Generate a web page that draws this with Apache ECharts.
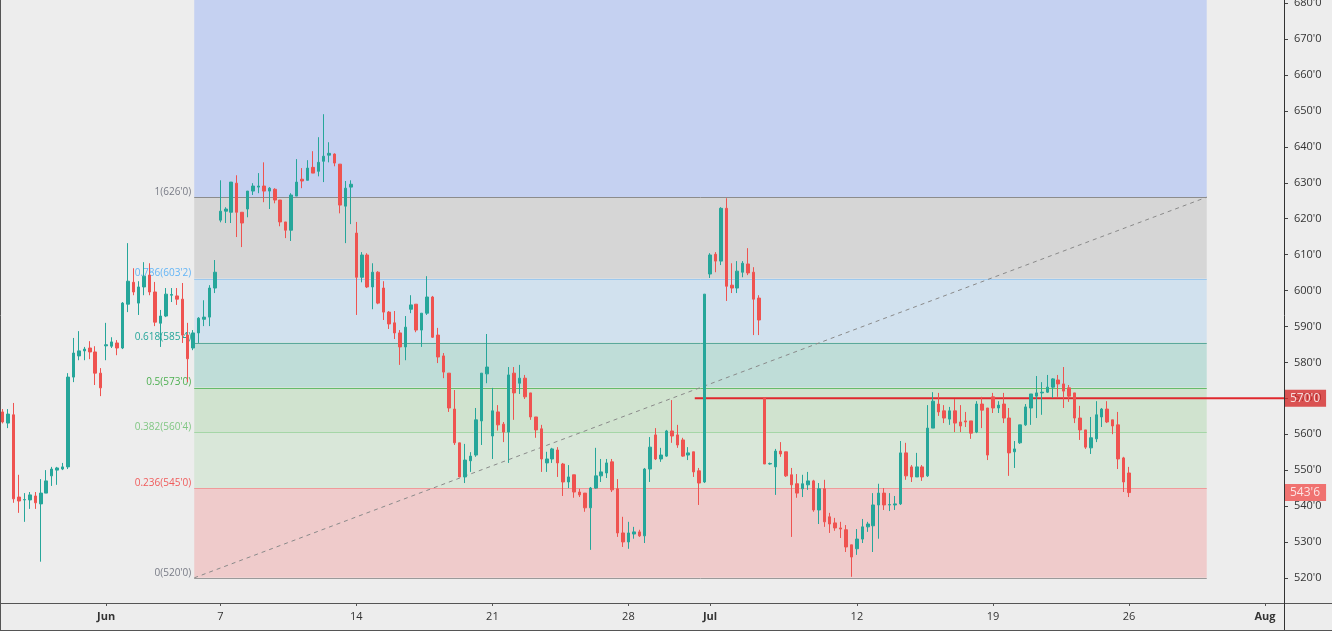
<!DOCTYPE html>
<html>
<head>
<meta charset="utf-8">
<script src="https://cdn.jsdelivr.net/npm/echarts@6/dist/echarts.min.js"></script>
<style>
html,body{margin:0;padding:0;background:#ededed;}
#chart{width:1332px;height:631px;}
</style>
</head>
<body>
<div id="chart"></div>
<script>
// ---------- DATA ----------
const open = [566.2,563.1,565.4,542.5,541.7,541.7,542.8,540.6,543.6,548.4,550.0,550.3,550.9,575.9,581.8,583.2,584.0,582.9,577.0,584.6,
584.5,585.4,584.0,596.2,602.3,596.5,601.0,604.3,599.6,590.9,592.9,598.7,598.5,597.6,587.6,584.0,588.2,592.0,592.6,600.7,
619.6,622.1,621.8,629.9,621.8,622.7,627.7,628.8,629.1,627.7,628.2,625.2,619.1,616.8,626.3,631.0,630.7,634.3,633.2,636.0,
637.7,638.0,635.2,623.5,628.8,616.0,603.7,609.9,601.0,605.1,600.7,594.0,591.0,588.2,584.3,594.8,596.2,589.0,593.7,598.2,
587.6,581.8,577.0,567.0,557.6,548.1,552.6,554.2,563.7,576.8,559.5,566.2,562.8,560.6,577.0,574.2,575.6,571.5,564.8,561.5,
552.0,553.1,555.6,551.7,546.7,548.7,543.9,543.6,539.5,545.0,548.4,549.2,552.3,544.8,532.5,530.0,532.2,532.8,531.7,550.3,
559.8,553.1,553.9,560.9,559.8,558.4,554.2,555.1,549.8,546.7,604.6,610.1,608.2,622.9,601.5,600.7,605.1,607.4,605.1,597.9,
570.1,551.7,550.9,555.3,555.1,548.7,546.2,544.8,545.9,547.0,538.9,544.8,537.0,535.3,533.9,533.4,529.2,528.1,530.8,534.2,
534.5,540.3,543.6,540.3,540.3,540.6,554.8,550.9,548.1,550.9,548.4,561.7,568.4,566.5,564.2,566.5,563.4,563.7,563.7,560.6,
568.4,567.3,570.4,567.3,568.4,564.5,555.1,557.6,562.6,567.3,570.6,571.5,571.7,573.1,575.1,574.0,572.9,571.5,564.5,561.2,
556.2,558.7,564.8,567.0,564.0,562.6,553.4,549.2];
const close = [563.4,565.6,542.0,541.4,541.8,543.1,540.9,543.6,547.0,550.3,550.6,550.9,575.9,582.6,583.2,583.7,582.9,577.0,572.9,584.9,
585.7,584.0,596.5,602.6,599.6,601.0,604.0,599.6,591.2,592.9,599.0,598.9,597.6,587.6,581.0,588.2,592.3,592.6,600.7,605.1,
622.1,622.7,630.2,621.8,618.8,627.7,629.1,629.1,627.7,628.5,625.2,619.1,616.8,626.6,630.2,630.5,634.1,632.7,635.7,637.4,
638.2,635.5,623.8,628.5,629.6,603.7,609.9,601.0,605.1,596.5,594.0,590.7,588.2,584.3,589.8,596.0,589.0,593.7,598.2,587.0,
581.5,577.3,567.3,557.6,548.1,552.8,553.9,564.0,577.0,578.7,566.5,562.6,560.6,576.5,571.5,575.6,570.4,564.8,561.2,553.1,
553.1,555.9,552.0,546.7,548.1,543.9,543.1,539.5,545.0,548.4,549.5,552.0,544.5,532.5,530.0,532.5,532.8,531.7,550.3,556.4,
553.1,554.2,560.9,559.5,557.0,553.9,554.8,549.5,546.4,599.0,609.9,608.2,622.9,601.2,600.7,605.4,607.6,604.9,597.6,591.8,
551.7,551.85,555.3,554.5,548.4,545.9,543.6,546.2,547.0,538.9,544.8,535.6,535.0,533.9,533.6,528.6,525.8,530.8,534.2,535.0,
540.3,543.6,540.3,540.4,540.6,554.8,548.4,548.1,550.9,548.1,561.7,569.2,566.2,564.5,566.5,563.1,562.3,563.4,560.3,568.4,
566.7,554.2,567.3,568.1,564.5,554.8,555.9,562.6,567.6,571.2,571.5,571.7,573.1,575.4,574.0,572.0,570.6,564.5,561.2,556.4,
559.0,565.4,567.0,563.4,562.3,553.1,546.7,543.75];
const high = [567.0,567.0,568.7,548.7,543.6,543.9,543.9,547.5,550.0,550.9,550.9,552.0,577.0,586.8,588.7,584.3,585.9,584.5,578.4,591.0,
587.0,586.2,596.8,613.2,606.2,602.6,607.9,607.6,602.4,594.6,600.7,600.7,600.7,602.1,591.0,589.0,592.6,597.3,601.5,608.5,
630.7,623.2,630.2,632.1,621.8,627.7,629.9,632.7,635.7,628.8,628.5,625.2,619.1,627.1,636.6,634.1,636.3,638.8,642.7,649.1,
641.3,638.2,635.2,630.5,630.7,619.1,610.7,610.4,607.6,605.4,602.6,594.3,594.3,589.0,592.9,598.7,596.2,593.7,604.0,598.5,
589.6,582.6,577.0,572.3,557.6,557.3,555.0,567.3,577.0,587.9,572.9,568.1,563.4,578.7,578.7,579.3,576.5,571.5,564.8,562.6,
555.1,556.2,556.4,552.0,551.4,548.7,544.8,543.6,545.3,556.2,553.1,553.1,553.1,547.5,537.0,535.6,534.2,533.4,550.6,559.2,
561.7,556.2,561.2,569.5,562.6,559.0,556.4,555.1,550.6,599.0,610.4,610.7,623.2,625.7,607.6,608.2,608.2,611.8,606.5,598.7,
570.1,552.1,555.9,557.8,555.1,550.6,548.9,548.7,549.5,547.3,546.4,547.3,538.1,536.7,535.6,534.7,529.2,533.6,536.4,535.6,
543.6,546.2,545.0,543.6,542.8,558.1,557.6,551.4,554.8,551.4,568.1,571.7,571.5,568.1,567.6,569.8,568.1,566.2,563.7,569.2,
570.4,567.3,571.5,569.2,571.5,567.3,558.1,562.6,568.4,571.2,576.2,574.5,576.5,575.6,576.5,578.7,573.7,571.5,567.9,561.2,
564.8,569.2,567.3,569.2,564.0,566.2,553.7,550.9];
const low = [563.0,561.7,540.9,538.1,535.6,539.2,539.2,524.5,543.6,545.6,545.9,550.0,550.3,574.5,580.6,580.6,580.9,573.7,570.6,580.6,
584.0,582.0,583.7,594.0,598.7,593.2,598.7,598.7,590.1,584.3,592.6,596.8,596.0,585.4,574.5,583.4,585.4,590.1,590.1,599.3,
619.0,618.8,618.8,614.9,612.1,620.4,626.6,627.1,624.6,622.7,624.3,617.9,614.6,613.8,626.3,628.5,630.7,632.7,631.8,630.2,
635.7,634.6,621.5,613.2,618.5,593.2,602.3,600.7,594.8,596.2,591.8,589.3,586.5,579.3,580.6,593.7,588.4,584.3,593.2,586.8,
579.8,575.6,566.2,557.0,548.1,546.4,549.5,553.7,557.0,574.2,553.1,561.0,557.8,552.0,564.0,571.2,569.8,564.0,559.0,549.5,
549.5,552.0,548.1,542.8,545.0,542.3,542.5,538.4,527.8,544.8,546.7,547.8,543.9,531.4,528.6,528.1,530.9,531.4,529.7,546.7,
552.8,552.3,553.7,557.6,556.2,553.7,552.8,548.1,540.3,546.4,603.5,605.1,607.1,597.1,599.3,599.3,603.7,604.3,587.6,587.6,
551.7,551.5,543.1,553.7,548.1,531.4,542.3,542.5,544.5,538.4,535.0,534.2,532.5,533.1,531.1,527.2,520.3,526.4,529.7,532.8,
527.2,530.9,538.9,538.6,538.9,540.3,547.3,546.7,548.1,547.0,548.1,561.7,565.1,563.1,562.6,560.6,560.6,562.0,558.7,560.3,
561.7,552.8,565.9,565.9,563.1,548.4,550.6,557.3,562.3,562.6,564.5,565.4,571.5,570.1,570.4,567.3,569.0,563.1,558.4,555.9,
554.5,557.8,562.0,563.1,560.0,550.3,543.9,542.5];

const totalSlots = 236;                       // bar slots on the time axis (incl. empty future slots)
const categories = Array.from({length: totalSlots}, (_, i) => String(i));
const xTickIndex  = [19, 40, 65, 90, 115, 130, 157, 182, 207, 232];
const xTickLabels = ['Jun', '7', '14', '21', '28', 'Jul', '12', '19', '26', 'Aug'];
const monthLabels = ['Jun', 'Jul', 'Aug'];

const yTicks = [520,530,540,550,560,570,580,590,600,610,620,630,640,650,660,670,680];
const yMin = 513.0, yMax = 680.9;

// Fibonacci retracement drawing
const fibHigh = 626, fibLow = 520;
const fibStartBar = 35.2, fibEndBar = 221.3;
const fibRatios = [1, 0.786, 0.618, 0.5, 0.382, 0.236, 0];
const fibFill      = ['#c5d1f1','#d6d6d6','#d1e1ee','#bfddd8','#d0e3cf','#d9e7d9','#efcbcb'];
const fibLineColor = ['#8c8c8c','#9cc8ee','#5aa89c','#66bb6a','#a5d6a7','#f09a9a','#9a9a9a'];
const fibTextColor = ['#787b86','#64b5f6','#26a69a','#4caf50','#81c784','#f05b5b','#787b86'];

// Horizontal line
const hLinePrice = 570, hLineStartBar = 127.2;

// ---------- HELPERS ----------
function fmtPrice(v) {
  const q = Math.round(v * 4) / 4;
  const whole = Math.floor(q + 1e-9);
  const eighths = Math.round((q - whole) * 8);
  return whole + "'" + eighths;
}
const tickSet = new Set(xTickIndex);
const candleData = open.map((o, i) => [o, close[i], low[i], high[i]]);
const fibData = fibRatios.map((r, i) => {
  const price = fibLow + r * (fibHigh - fibLow);
  const above = i === 0 ? yMax : fibLow + fibRatios[i - 1] * (fibHigh - fibLow);
  return [fibStartBar, price, fibEndBar, above];
});
const fibText = fibRatios.map(r => r + '(' + fmtPrice(fibLow + r * (fibHigh - fibLow)) + ')');
const lastClose = close[close.length - 1];
const xMaxVal = totalSlots - 0.5;

const chart = echarts.init(document.getElementById('chart'), null, {renderer: 'canvas'});
const FONT = '"Open Sans", "Noto Sans", sans-serif';

chart.setOption({
  animation: false,
  backgroundColor: '#ededed',
  grid: {left: 0, right: 48, top: 0, bottom: 28, containLabel: false, outerBoundsMode: 'none'},
  xAxis: [{
    type: 'category',
    data: categories,
    boundaryGap: true,
    axisLine: {show: false, onZero: false},
    axisTick: {show: true, interval: (i) => tickSet.has(i), alignWithLabel: true, length: 3, lineStyle: {color: '#555'}},
    axisLabel: {
      interval: (i) => tickSet.has(i),
      margin: 8,
      color: '#333',
      fontSize: 11,
      fontFamily: FONT,
      formatter: (v) => {
        const k = xTickIndex.indexOf(Number(v));
        if (k < 0) return '';
        const t = xTickLabels[k];
        return monthLabels.includes(t) ? '{b|' + t + '}' : t;
      },
      rich: {b: {fontWeight: 'bold', fontSize: 11, color: '#333', fontFamily: FONT}}
    },
    splitLine: {show: false}
  }, {
    type: 'value',
    min: -0.5,
    max: xMaxVal,
    show: false,
    axisLine: {onZero: false}
  }],
  yAxis: [{
    type: 'value',
    position: 'right',
    min: yMin,
    max: yMax,
    splitLine: {show: false},
    axisLine: {show: false, onZero: false},
    axisTick: {show: true, length: 4, customValues: yTicks, lineStyle: {color: '#444'}},
    axisLabel: {customValues: yTicks, formatter: fmtPrice, color: '#333', fontSize: 11, margin: 10, fontFamily: FONT}
  }],
  series: [
    {
      type: 'custom',
      name: 'fib',
      xAxisIndex: 1,
      yAxisIndex: 0,
      z: 1,
      silent: true,
      data: fibData,
      encode: {x: [0, 2], y: [1, 3]},
      renderItem: (params, api) => {
        const i = params.dataIndex;
        const pA = api.coord([api.value(0), api.value(3)]);
        const pB = api.coord([api.value(2), api.value(1)]);
        const yLine = Math.round(pB[1]) + 0.5;
        return {
          type: 'group',
          children: [
            {type: 'rect', shape: {x: pA[0], y: pA[1], width: pB[0] - pA[0], height: pB[1] - pA[1]}, style: {fill: fibFill[i]}, z2: 1},
            {type: 'line', shape: {x1: pA[0], y1: yLine, x2: pB[0], y2: yLine}, style: {stroke: fibLineColor[i], lineWidth: 1}, z2: 5},
            {type: 'text', x: pA[0] - 3, y: pB[1] - 5, z2: 6,
             style: {text: fibText[i], fill: fibTextColor[i], align: 'right', verticalAlign: 'middle', font: '10px ' + FONT}}
          ]
        };
      }
    },
    {
      type: 'line',
      name: 'trend',
      xAxisIndex: 1,
      yAxisIndex: 0,
      z: 2,
      silent: true,
      symbol: 'none',
      data: [[fibStartBar, fibLow], [fibEndBar, fibHigh]],
      lineStyle: {color: '#8a8a8a', width: 1, type: [4, 4]}
    },
    {
      type: 'line',
      name: 'level570',
      xAxisIndex: 1,
      yAxisIndex: 0,
      z: 3,
      silent: true,
      symbol: 'none',
      clip: false,
      data: [[hLineStartBar, hLinePrice], [xMaxVal, hLinePrice]],
      lineStyle: {color: '#e0282e', width: 2}
    },
    {
      type: 'candlestick',
      name: 'price',
      xAxisIndex: 0,
      yAxisIndex: 0,
      z: 5,
      barWidth: 3,
      data: candleData,
      itemStyle: {color: '#26a69a', color0: '#ef5350', borderColor: '#26a69a', borderColor0: '#ef5350', borderWidth: 1}
    },
    {
      type: 'scatter',
      name: 'tags',
      xAxisIndex: 1,
      yAxisIndex: 0,
      z: 10,
      silent: true,
      clip: false,
      symbolSize: 0,
      data: [
        {value: [xMaxVal, hLinePrice], label: {backgroundColor: '#d52b2b'}},
        {value: [xMaxVal, lastClose], label: {backgroundColor: '#f05350'}}
      ],
      label: {
        show: true,
        position: 'right',
        distance: 1,
        color: '#fff',
        fontSize: 12,
        fontFamily: FONT,
        padding: [3, 6, 2, 5],
        formatter: (p) => fmtPrice(p.value[1])
      }
    }
  ],
  graphic: [
    {type: 'line', shape: {x1: 0, y1: 603.5, x2: 1332, y2: 603.5}, style: {stroke: '#555', lineWidth: 1}, z: 100},
    {type: 'line', shape: {x1: 1284.5, y1: 0, x2: 1284.5, y2: 631}, style: {stroke: '#333', lineWidth: 1}, z: 100},
    {type: 'line', shape: {x1: 0.5, y1: 0, x2: 0.5, y2: 631}, style: {stroke: '#555', lineWidth: 1}, z: 100},
    {type: 'line', shape: {x1: 0, y1: 630.5, x2: 1332, y2: 630.5}, style: {stroke: '#555', lineWidth: 1}, z: 100}
  ]
});
</script>
</body>
</html>
